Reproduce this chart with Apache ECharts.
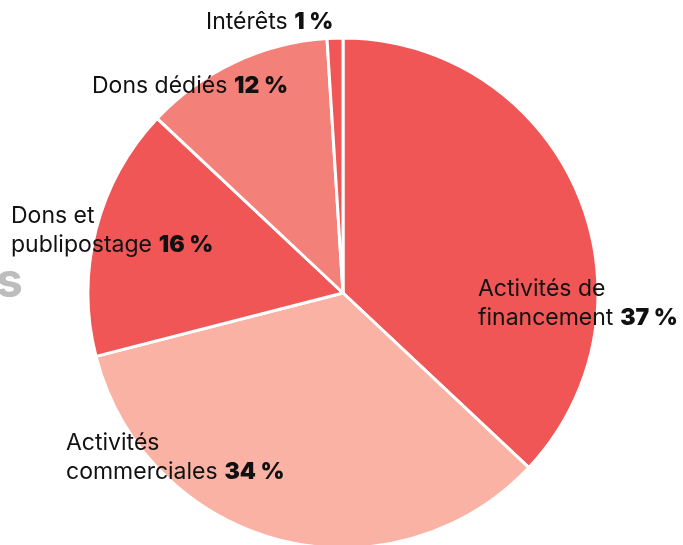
<!DOCTYPE html>
<html>
<head>
<meta charset="utf-8">
<script src="https://cdn.jsdelivr.net/npm/echarts@6/dist/echarts.min.js"></script>
<style>
  html, body { margin: 0; padding: 0; background: #fff; }
  #chart { width: 683px; height: 545px; }
</style>
</head>
<body>
<div id="chart"></div>
<script>
// sources de revenus (%)
var categories = ["Activités de\nfinancement", "Activités\ncommerciales", "Dons et\npublipostage", "Dons dédiés", "Intérêts"];
var values = [37, 34, 16, 12, 1];
var colors = ["#F05656", "#F9B2A4", "#F05656", "#F3817A", "#F05656"];

// où poser chaque étiquette (x gauche, y milieu)
var labelPos = [[478, 304], [66, 458], [11, 231], [92, 86], [206, 22]];

var chart = echarts.init(document.getElementById("chart"));

chart.setOption({
  animation: false,
  textStyle: { fontFamily: "Inter" },
  graphic: [
    {
      type: "text",
      left: -4,
      top: 259,
      style: { text: "s", fill: "#BDBDBD", font: "bold 48px Inter" }
    }
  ],
  series: [
    {
      type: "pie",
      center: [343, 293],
      radius: 255,
      startAngle: 90,
      clockwise: true,
      silent: true,
      itemStyle: { borderColor: "#fff", borderWidth: 3 },
      labelLine: { show: false },
      label: {
        show: true,
        position: "inside",
        color: "#111",
        formatter: function(p) {
          var lines = p.name.split("\n");
          var out = lines.map(function(l) { return "{n|" + l + "}"; });
          out[out.length - 1] += "  {b|" + p.value + " %}";
          return out.join("\n");
        },
        rich: {
          n: { fontSize: 23, fontFamily: "Inter", color: "#111", lineHeight: 29 },
          b: { fontSize: 23, fontFamily: "Inter", fontWeight: 900, color: "#111", lineHeight: 29 }
        }
      },
      labelLayout: function(params) {
        var pos = labelPos[params.dataIndex];
        return { x: pos[0], y: pos[1], align: "left", verticalAlign: "middle" };
      },
      data: categories.map(function(c, i) {
        return { name: c, value: values[i], itemStyle: { color: colors[i] } };
      })
    }
  ]
});
</script>
</body>
</html>
